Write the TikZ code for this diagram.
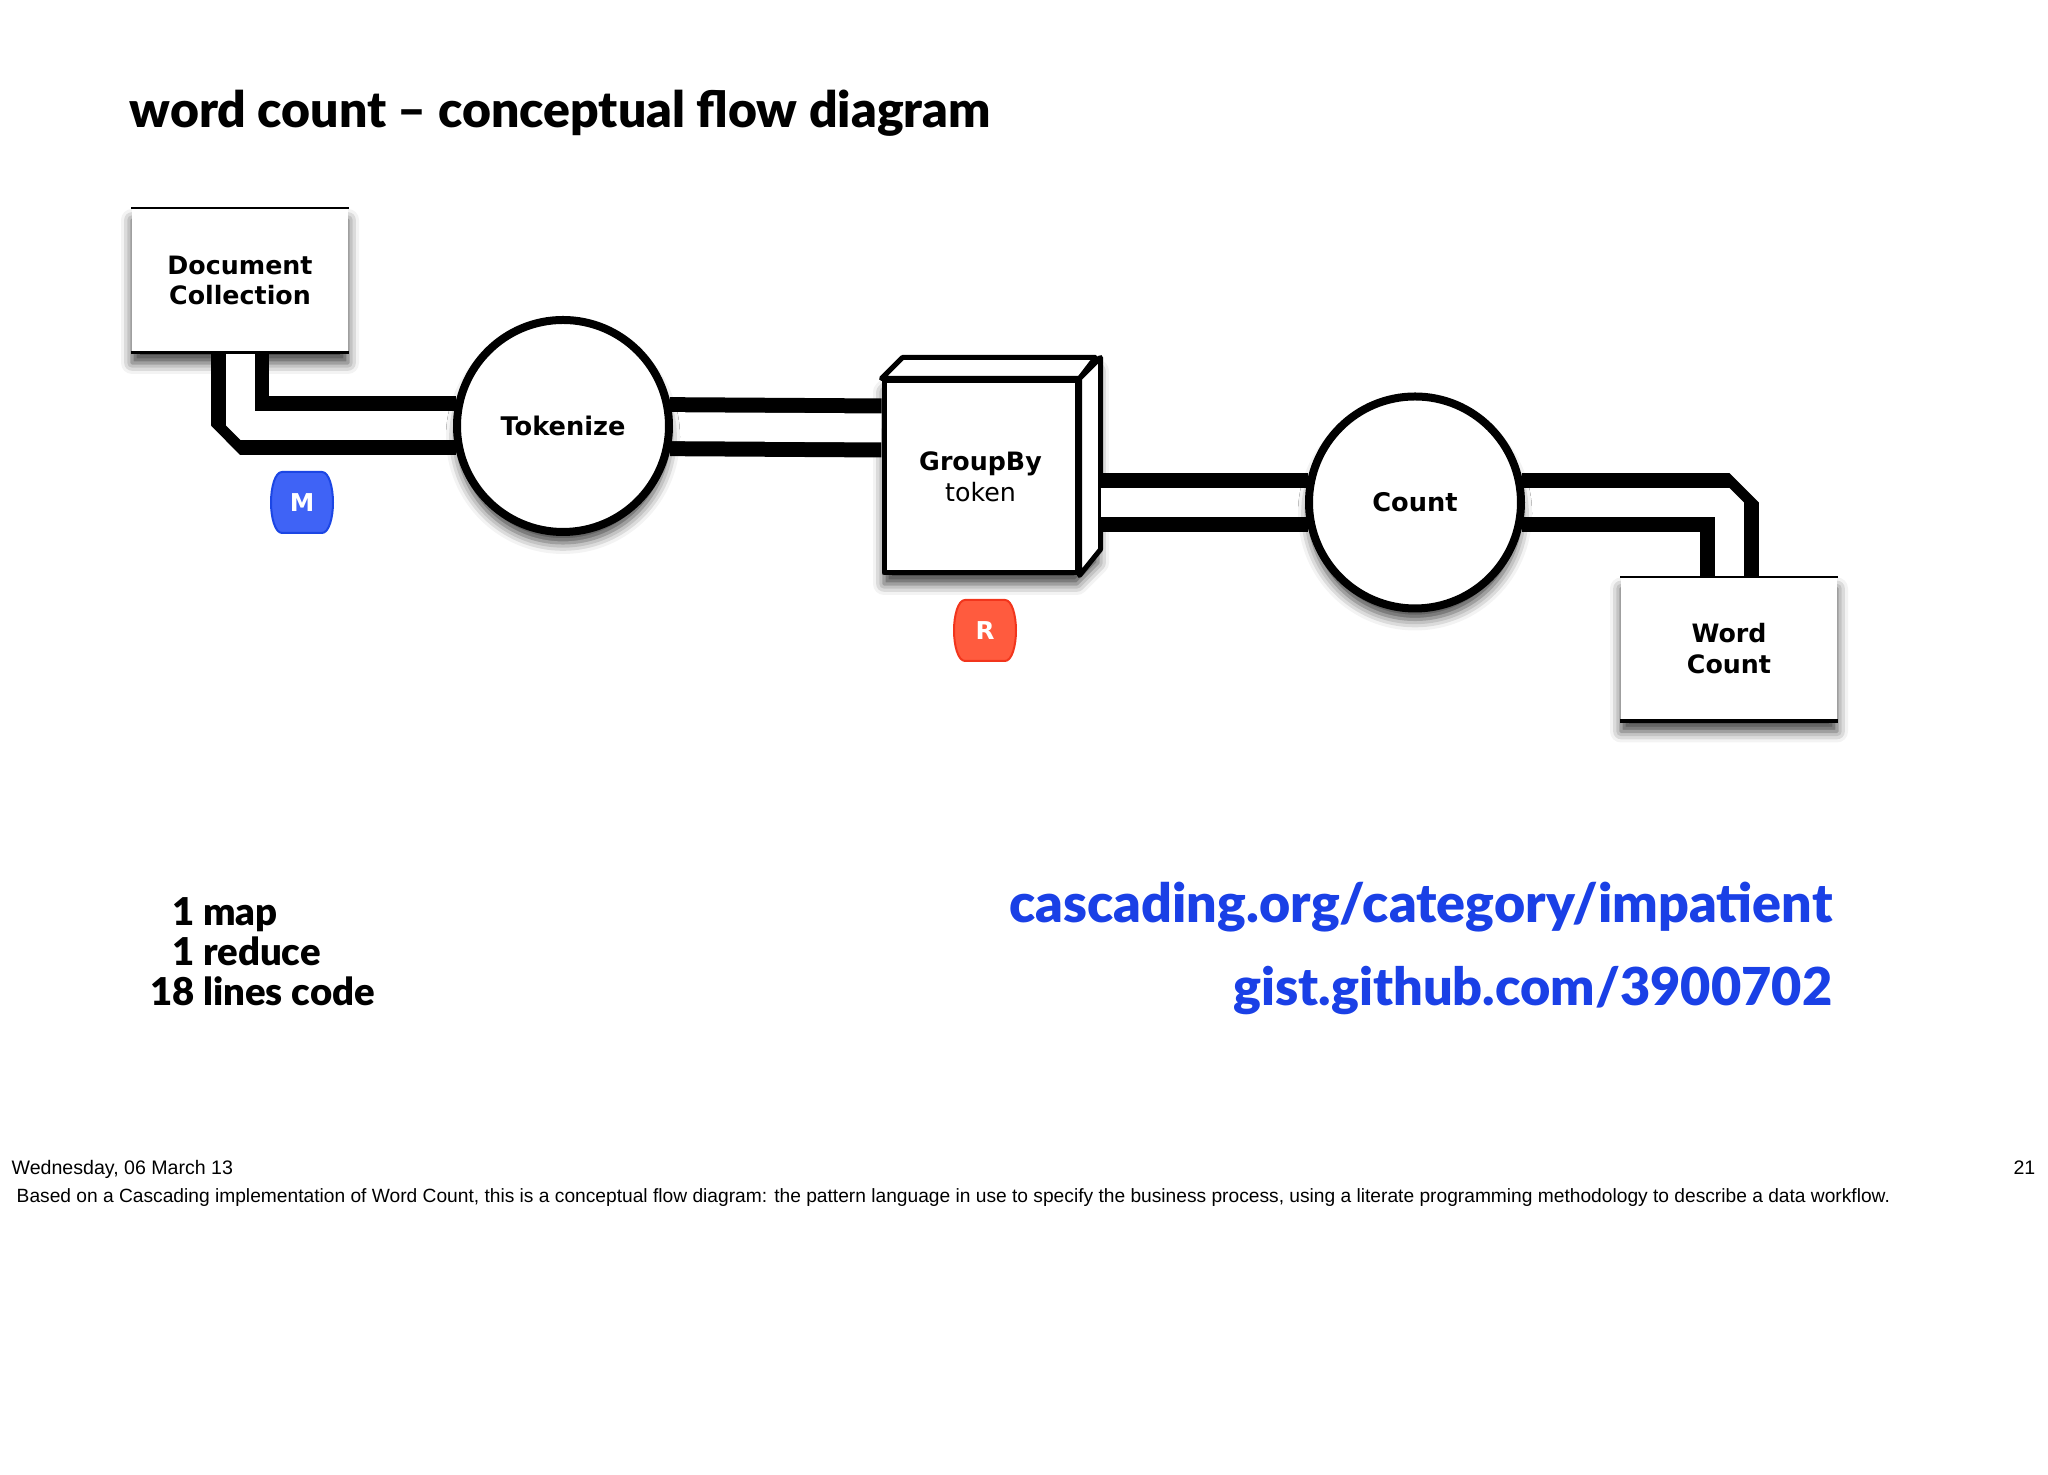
\documentclass[tikz,border=0pt]{standalone}
\usepackage{fontspec}
\setmainfont{Liberation Sans}
\newfontfamily\labelfont{DejaVu Sans}
\newfontfamily\headfont{Lato Black}
\usetikzlibrary{calc}
\usetikzlibrary{positioning}
\usetikzlibrary{shadows.blur}

\definecolor{linkblue}{HTML}{1A40E6}
\definecolor{mapblue}{HTML}{3F63F6}
\definecolor{mapedge}{HTML}{1C46E4}
\definecolor{redfill}{HTML}{FF5B3E}
\definecolor{rededge}{HTML}{F2351C}

\newcommand{\badgeoutline}{(-.2,.305) -- (.2,.305) .. controls (.27,.305) and (.31,.15) .. (.31,0) .. controls (.31,-.15) and (.27,-.305) .. (.2,-.305) -- (-.2,-.305) .. controls (-.27,-.305) and (-.31,-.15) .. (-.31,0) .. controls (-.31,.15) and (-.27,.305) .. (-.2,.305) -- cycle}

\tikzset{
    softshadow/.style={blur shadow={shadow xshift=0cm,shadow yshift=-.11cm,shadow blur radius=.11cm,shadow opacity=75}},
    store/.style={fill=white,softshadow,minimum width=2.16cm,minimum height=1.43cm,inner sep=0pt,align=center,font=\labelfont\fontsize{7.2}{8.8}\selectfont\bfseries},
    slot/.style={circle,minimum size=2.2cm,inner sep=0pt,outer sep=0pt},
    task/.style={circle,draw,line width=.08cm,fill=white,softshadow,minimum size=2.12cm,inner sep=0pt,font=\labelfont\fontsize{7.3}{8.8}\selectfont\bfseries},
    face/.style={draw,line width=.05cm,line join=round,fill=white},
    pipe/.style={draw,line width=.15cm,double=white,double distance=.29cm,line join=bevel},
    badge/.style={inner sep=0pt,text=white,font=\labelfont\fontsize{7}{8}\selectfont\bfseries},
    head/.style={anchor=base west,inner sep=0pt,font=\headfont\fontsize{14.2}{16}\selectfont},
    link/.style={anchor=base east,inner sep=0pt,text=linkblue},
    note/.style={anchor=base west,inner sep=0pt,font=\fontsize{5.46}{7}\selectfont}
}

\begin{document}
\begin{tikzpicture}

    \useasboundingbox (0,0) rectangle (20.48,14.75);

    \node[head] (title) at (1.29,13.47) {word count – conceptual flow diagram};

    \node[store] (doc) at (2.40,11.945) {Document\\Collection};
    \node[store] (wordcount) at (17.29,8.26) {Word\\Count};

    \node[slot] (tokenize) at (5.63,10.49) {};
    \node[slot] (count) at (14.15,9.725) {};

    \path[face,draw=none,softshadow] (8.84,9.02) -- (8.84,10.94) -- (9.05,11.15) -- (10.98,11.15) -- (10.98,9.23) -- (10.77,9.02) -- cycle;
    \node[face,minimum width=1.93cm,minimum height=1.92cm,inner sep=0pt,align=center,font=\labelfont\fontsize{7.2}{8.8}\selectfont] (cube) at (9.805,9.98) {\textbf{GroupBy}\\token};
    \draw[face] (cube.north west) -- ++(.21,.21) -- ++(1.93,0) -- (cube.north east) -- cycle;
    \draw[face] (cube.north east) -- ++(.21,.21) coordinate (cubeback) -- ++(0,-1.92) -- (cube.south east) -- cycle;

    \draw[pipe,shorten >=-.03cm] (doc) |- (tokenize);
    \draw[pipe,shorten <=-.03cm] (tokenize) -- ([yshift=-.02cm]tokenize -| cube.west);
    \draw[pipe,shorten >=-.03cm] (cubeback |- count) -- (count);
    \draw[pipe,shorten <=-.03cm] (count) -| (wordcount);

    \node[task] (tokenize) at (tokenize.center) {Tokenize};
    \node[task] (count) at (count.center) {Count};

    \foreach \n in {doc,wordcount} {
        \draw[line width=.02cm] (\n.north west) -- (\n.north east);
        \draw[line width=.035cm] (\n.south west) -- (\n.south east);
    }

    \draw[fill=mapblue,draw=mapedge,line width=.02cm,shift={(3.02,9.725)}] \badgeoutline (0,0) node[badge] (map) {M};
    \draw[fill=redfill,draw=rededge,line width=.02cm,shift={(9.85,8.445)}] \badgeoutline (0,0) node[badge] (reduce) {R};

    \node[anchor=base west,inner sep=0pt,font=\headfont\fontsize{10.9}{11}\selectfont,align=left] (stats) at (1.50,5.08) {%
        \begin{tabular}{@{}r@{\hspace{.08cm}}l@{}}1 & map\\1 & reduce\\18 & lines code\end{tabular}};

    \node[link,font=\headfont\fontsize{15.3}{18}\selectfont] (site) at (18.33,5.52) {cascading.org/category/impatient};
    \node[link,font=\headfont\fontsize{14.87}{18}\selectfont] (gist) at (18.33,4.69) {gist.github.com/3900702};

    \node[note,font=\fontsize{5.57}{7}\selectfont] (date) at (.11,3.005) {Wednesday, 06 March 13};
    \node[note,anchor=base east,font=\fontsize{5.57}{7}\selectfont] (page) at (20.36,3.005) {21};
    \node[note] (caption) at (.16,2.725) {Based on a Cascading implementation of Word Count, this is a conceptual flow diagram: the pattern language in use to specify the business process, using a literate programming methodology to describe a data workflow.};

\end{tikzpicture}
\end{document}
